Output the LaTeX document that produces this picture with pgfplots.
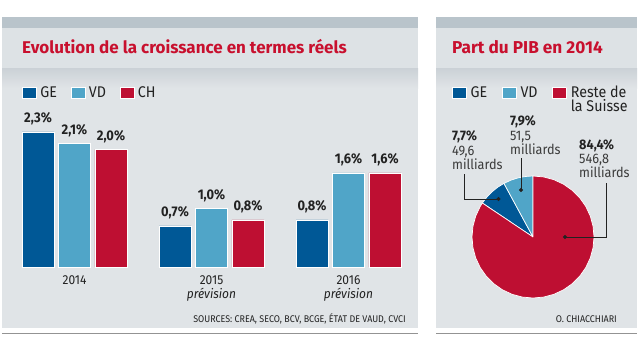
\documentclass[border=0pt]{standalone}
\usepackage{pgfplots}
\pgfplotsset{compat=1.18}
\usepackage{fontspec}
\setmainfont{Fira Sans}[FakeStretch=0.92]
\newfontfamily\titlefont{Fira Sans}
\definecolor{ge}{HTML}{005896}
\definecolor{vd}{HTML}{50A5C8}
\definecolor{ch}{HTML}{BE0F32}
\definecolor{titlered}{HTML}{C8102E}
\definecolor{topband}{HTML}{B9C4CB}
\definecolor{titleband}{HTML}{DDE2E5}
\definecolor{bodyc}{HTML}{E0E4E7}
\definecolor{shadowc}{HTML}{CBD1D6}
\definecolor{txt}{HTML}{222222}
\definecolor{txtl}{HTML}{3A3A3A}
\begin{document}
\begin{tikzpicture}
\begin{scope}[x=1pt,y=-1pt]
\useasboundingbox (0,0) rectangle (640,338);
\fill[white] (0,0) rectangle (640,338);
\foreach \a/\b in {2/418, 436/637}{
  \fill[topband] (\a,17) rectangle (\b,28);
  \fill[titleband] (\a,28) rectangle (\b,68);
  \shade[top color=shadowc, bottom color=bodyc] (\a,68) rectangle (\b,88);
  \fill[bodyc] (\a,88) rectangle (\b,328);
  \draw[gray!85, line width=1.2pt] (\a,333.5) -- (\b,333.5);
}
\node[anchor=base west, font=\titlefont\fontsize{17}{20}\selectfont\bfseries, text=titlered, inner sep=0pt] at (22,53) {Evolution de la croissance en termes réels};
\node[anchor=base west, font=\titlefont\fontsize{17.2}{20}\selectfont\bfseries, text=titlered, inner sep=0pt] at (452,53) {Part du PIB en 2014};
\node[anchor=base east, font=\fontsize{9.7}{11}\selectfont, text=txt, inner sep=0pt] at (406,322.5) {SOURCES: CREA, SECO, BCV, BCGE, ÉTAT DE VAUD, CVCI};
\node[anchor=base east, font=\fontsize{9.7}{11}\selectfont, text=txt, inner sep=0pt] at (617,322) {O. CHIACCHIARI};
\node[anchor=north west, align=left, font=\fontsize{13.8}{14.2}\selectfont, text=txtl, inner sep=0pt] at (452,130.7) {\textbf{\color{txt}7,7\%}\\49,6\\milliards};
\node[anchor=north west, align=left, font=\fontsize{13.8}{14.2}\selectfont, text=txtl, inner sep=0pt] at (510,115.7) {\textbf{\color{txt}7,9\%}\\51,5\\milliards};
\node[anchor=north west, align=left, font=\fontsize{13.8}{14.2}\selectfont, text=txtl, inner sep=0pt] at (579,139.3) {\textbf{\color{txt}84,4\%}\\546,8\\milliards};
\end{scope}

\begin{axis}[
  at={(6pt,-267pt)}, anchor=south west, scale only axis,
  width=411pt, height=147pt,
  xmin=-0.5, xmax=2.5, ymin=0, ymax=2.5,
  axis line style={draw=none}, ytick=\empty,
  xtick={0,1,2},
  xticklabels={2014, 2015\\\textit{prévision}, 2016\\\textit{prévision}},
  major tick length=0pt,
  xticklabel style={align=center, font=\fontsize{13}{14}\selectfont, text=txt, inner sep=0pt, yshift=-8pt},
  ybar, bar width=0.2336, clip=false,
  nodes near coords={\pgfmathprintnumber{\pgfplotspointmeta}\%},
  every node near coord/.append style={font=\fontsize{14}{14}\selectfont\bfseries, text=txt, anchor=base, inner sep=0pt, yshift=9pt},
  /pgf/number format/.cd, use comma, fixed, fixed zerofill, precision=1, assume math mode=true,
  /pgfplots/.cd,
  legend columns=3,
  legend image code/.code={\fill[#1] (0pt,-0.5pt) rectangle (14pt,10.5pt);},
  legend style={at={(0.0389,1.229)}, anchor=north west, draw=none, fill=none, inner sep=0pt, outer sep=0pt,
    font=\fontsize{15.5}{15.5}\selectfont, text=txt, nodes={inner sep=0pt, anchor=base west},
    /tikz/every odd column/.style={column sep=4pt},
    /tikz/every even column/.style={column sep=13.5pt}},
]
\addplot[fill=ge, draw=white, line width=0.4pt, bar shift=-0.2664] coordinates {(0,2.3) (1,0.7) (2,0.8)};
\addlegendentry{GE}
\addplot[fill=vd, draw=white, line width=0.4pt, bar shift=0] coordinates {(0,2.1) (1,1.0) (2,1.6)};
\addlegendentry{VD}
\addplot[fill=ch, draw=white, line width=0.4pt, bar shift=0.2664] coordinates {(0,2.0) (1,0.8) (2,1.6)};
\addlegendentry{CH}
\end{axis}

\begin{axis}[
  at={(533pt,-237pt)}, anchor=center, scale only axis,
  width=122pt, height=122pt,
  xmin=-1, xmax=1, ymin=-1, ymax=1,
  hide axis, clip=false,
  legend columns=3,
  legend image code/.code={\fill[#1] (0pt,-0.5pt) rectangle (14pt,10.5pt);},
  legend style={at={(-0.1639,1.739)}, anchor=north west, draw=none, fill=none, inner sep=0pt, outer sep=0pt,
    font=\fontsize{15.5}{13.5}\selectfont, text=txt, nodes={inner sep=0pt, anchor=base west},
    /tikz/every odd column/.style={column sep=4pt},
    /tikz/every even column/.style={column sep=14.5pt}},
]
\addplot[fill=ge, draw=white, line width=0.7pt, line join=round, data cs=polar]
  coordinates {(0,0) (118.44,1) (125,1) (132,1) (139,1) (146.16,1) (0,0)};
\addlegendentry{GE}
\addplot[fill=vd, draw=white, line width=0.7pt, line join=round, data cs=polar]
  coordinates {(0,0) (90,1) (97,1) (104,1) (111,1) (118.44,1) (0,0)};
\addlegendentry{VD}
\addplot[fill=ch, draw=white, line width=0.7pt, line join=round, data cs=polar]
  coordinates {(0,0) (146.16,1) (150,1) (160,1) (170,1) (180,1) (190,1) (200,1) (210,1) (220,1) (230,1) (240,1) (250,1) (260,1) (270,1) (280,1) (290,1) (300,1) (310,1) (320,1) (330,1) (340,1) (350,1) (360,1) (370,1) (380,1) (390,1) (400,1) (410,1) (420,1) (430,1) (440,1) (450,1) (0,0)};
\addlegendentry{\begin{tabular}[t]{@{}l@{}}Reste de\\[-2pt]la Suisse\end{tabular}}
\addplot[txt, line width=0.8pt, mark=*, mark size=1.6pt, mark indices={1}, forget plot]
  coordinates {(0.525,0) (1.197,0) (1.197,0.885)};
\addplot[txt, line width=0.8pt, mark=*, mark size=1.6pt, mark indices={1}, forget plot]
  coordinates {(-0.197,0.770) (-0.197,1.295)};
\addplot[txt, line width=0.8pt, mark=*, mark size=1.6pt, mark indices={1}, forget plot]
  coordinates {(-0.566,0.623) (-1.131,0.623) (-1.131,1.033)};
\end{axis}
\end{tikzpicture}
\end{document}
